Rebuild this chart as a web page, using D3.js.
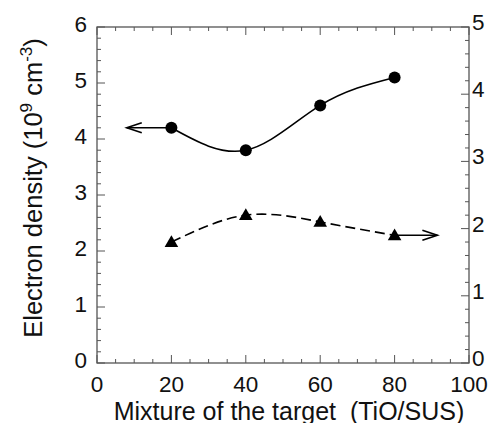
<!DOCTYPE html>
<html>
<head>
<meta charset="utf-8">
<script src="https://cdn.jsdelivr.net/npm/d3@7"></script>
<style>
  html, body { margin: 0; padding: 0; background: #fff; }
  svg { display: block; font-family: "Liberation Sans", Arial, sans-serif; }
</style>
</head>
<body>
<svg id="chart" width="493" height="423"></svg>
<script>
// Mixture ratio of the sputtering target (TiO/SUS)
const mixture = [20, 40, 60, 80];
// Electron density, left axis (10^9 cm^-3)
const electronDensity = [4.2, 3.8, 4.6, 5.1];
// Second series, right axis
const rightSeries = [1.8, 2.2, 2.1, 1.9];
// Tick labels
const xTicks = [0, 20, 40, 60, 80, 100];
const yLeftTicks = [0, 1, 2, 3, 4, 5, 6];
const yRightTicks = [0, 1, 2, 3, 4, 5];
// Where the axis-pointer arrows end (x in mixture units)
const leftArrowEnd = 8;
const rightArrowEnd = 91.5;

const svg = d3.select("#chart");
const margin = { left: 97, right: 24, top: 27, bottom: 60 };
const W = 493, H = 423;
const x0 = margin.left, x1 = W - margin.right;
const y0 = H - margin.bottom, y1 = margin.top;

const x = d3.scaleLinear().domain([0, 100]).range([x0, x1]);
const yL = d3.scaleLinear().domain([0, 6]).range([y0, y1]);
const yR = d3.scaleLinear().domain([0, 5]).range([y0, y1]);

const axisColor = "#555";
const major = 8, minor = 4;

// frame
svg.append("rect")
  .attr("x", x0).attr("y", y1)
  .attr("width", x1 - x0).attr("height", y0 - y1)
  .attr("fill", "none").attr("stroke", axisColor).attr("stroke-width", 1.3);

const tickG = svg.append("g").attr("stroke", axisColor).attr("stroke-width", 1);

// x ticks (bottom and top, pointing inward)
d3.range(0, 101, 5).forEach(v => {
  const len = v % 20 === 0 ? major : minor;
  const px = x(v);
  tickG.append("line").attr("x1", px).attr("x2", px).attr("y1", y0).attr("y2", y0 - len);
  tickG.append("line").attr("x1", px).attr("x2", px).attr("y1", y1).attr("y2", y1 + len);
});
// left y ticks
d3.range(0, 31).map(i => i * 0.2).forEach((v, i) => {
  const len = i % 5 === 0 ? major : minor;
  const py = yL(v);
  tickG.append("line").attr("x1", x0).attr("x2", x0 + len).attr("y1", py).attr("y2", py);
});
// right y ticks
d3.range(0, 26).map(i => i * 0.2).forEach((v, i) => {
  const len = i % 5 === 0 ? major : minor;
  const py = yR(v);
  tickG.append("line").attr("x1", x1).attr("x2", x1 - len).attr("y1", py).attr("y2", py);
});

const tickFont = 22.5;
// x tick labels
svg.append("g").selectAll("text").data(xTicks).join("text")
  .attr("x", d => x(d)).attr("y", y0 + 28.5)
  .attr("text-anchor", "middle").attr("font-size", tickFont).attr("fill", "#111")
  .text(d => d);
// left tick labels
svg.append("g").selectAll("text").data(yLeftTicks).join("text")
  .attr("x", x0 - 10).attr("y", d => yL(d) + 5)
  .attr("text-anchor", "end").attr("font-size", tickFont).attr("fill", "#111")
  .text(d => d);
// right tick labels
svg.append("g").selectAll("text").data(yRightTicks).join("text")
  .attr("x", x1 + 3).attr("y", d => yR(d) + 3)
  .attr("text-anchor", "start").attr("font-size", tickFont).attr("fill", "#111")
  .text(d => d);

// axis titles
svg.append("text")
  .attr("x", 289).attr("y", 419.5)
  .attr("text-anchor", "middle").attr("font-size", 25).attr("fill", "#111")
  .attr("xml:space", "preserve")
  .text("Mixture of the target  (TiO/SUS)");

const yt = svg.append("text")
  .attr("transform", "translate(42,188) rotate(-90)")
  .attr("text-anchor", "middle").attr("font-size", 25.5).attr("fill", "#111");
yt.append("tspan").text("Electron density (10");
yt.append("tspan").attr("dy", -10).attr("font-size", 17).text("9");
yt.append("tspan").attr("dy", 10).text(" cm");
yt.append("tspan").attr("dy", -10).attr("font-size", 17).text("-3");
yt.append("tspan").attr("dy", 10).text(")");

// curves
const leftPts = mixture.map((m, i) => [x(m), yL(electronDensity[i])]);
const rightPts = mixture.map((m, i) => [x(m), yR(rightSeries[i])]);
const curve = d3.line().curve(d3.curveNatural);

svg.append("path").attr("d", curve(leftPts))
  .attr("fill", "none").attr("stroke", "#000").attr("stroke-width", 1.6);
svg.append("path").attr("d", curve(rightPts))
  .attr("fill", "none").attr("stroke", "#000").attr("stroke-width", 1.6)
  .attr("stroke-dasharray", "10,5");

// markers
svg.append("g").selectAll("circle").data(leftPts).join("circle")
  .attr("cx", d => d[0]).attr("cy", d => d[1]).attr("r", 6).attr("fill", "#000");
const tri = d3.symbol().type(d3.symbolTriangle).size(80);
svg.append("g").selectAll("path").data(rightPts).join("path")
  .attr("transform", d => `translate(${d[0]},${d[1] + 1})`)
  .attr("d", tri()).attr("fill", "#000");

// axis-pointer arrows
function arrow(xa, xb, yv) {
  const dir = Math.sign(xb - xa);
  const tip = x(xb), py = yv;
  svg.append("line").attr("x1", x(xa)).attr("x2", tip).attr("y1", py).attr("y2", py)
    .attr("stroke", "#000").attr("stroke-width", 1.6);
  svg.append("path")
    .attr("d", `M${tip - dir * 15},${py - 5} L${tip},${py} L${tip - dir * 15},${py + 5}`)
    .attr("fill", "none").attr("stroke", "#000").attr("stroke-width", 1.6);
}
arrow(mixture[0], leftArrowEnd, leftPts[0][1]);
arrow(mixture[3], rightArrowEnd, rightPts[3][1]);
</script>
</body>
</html>
